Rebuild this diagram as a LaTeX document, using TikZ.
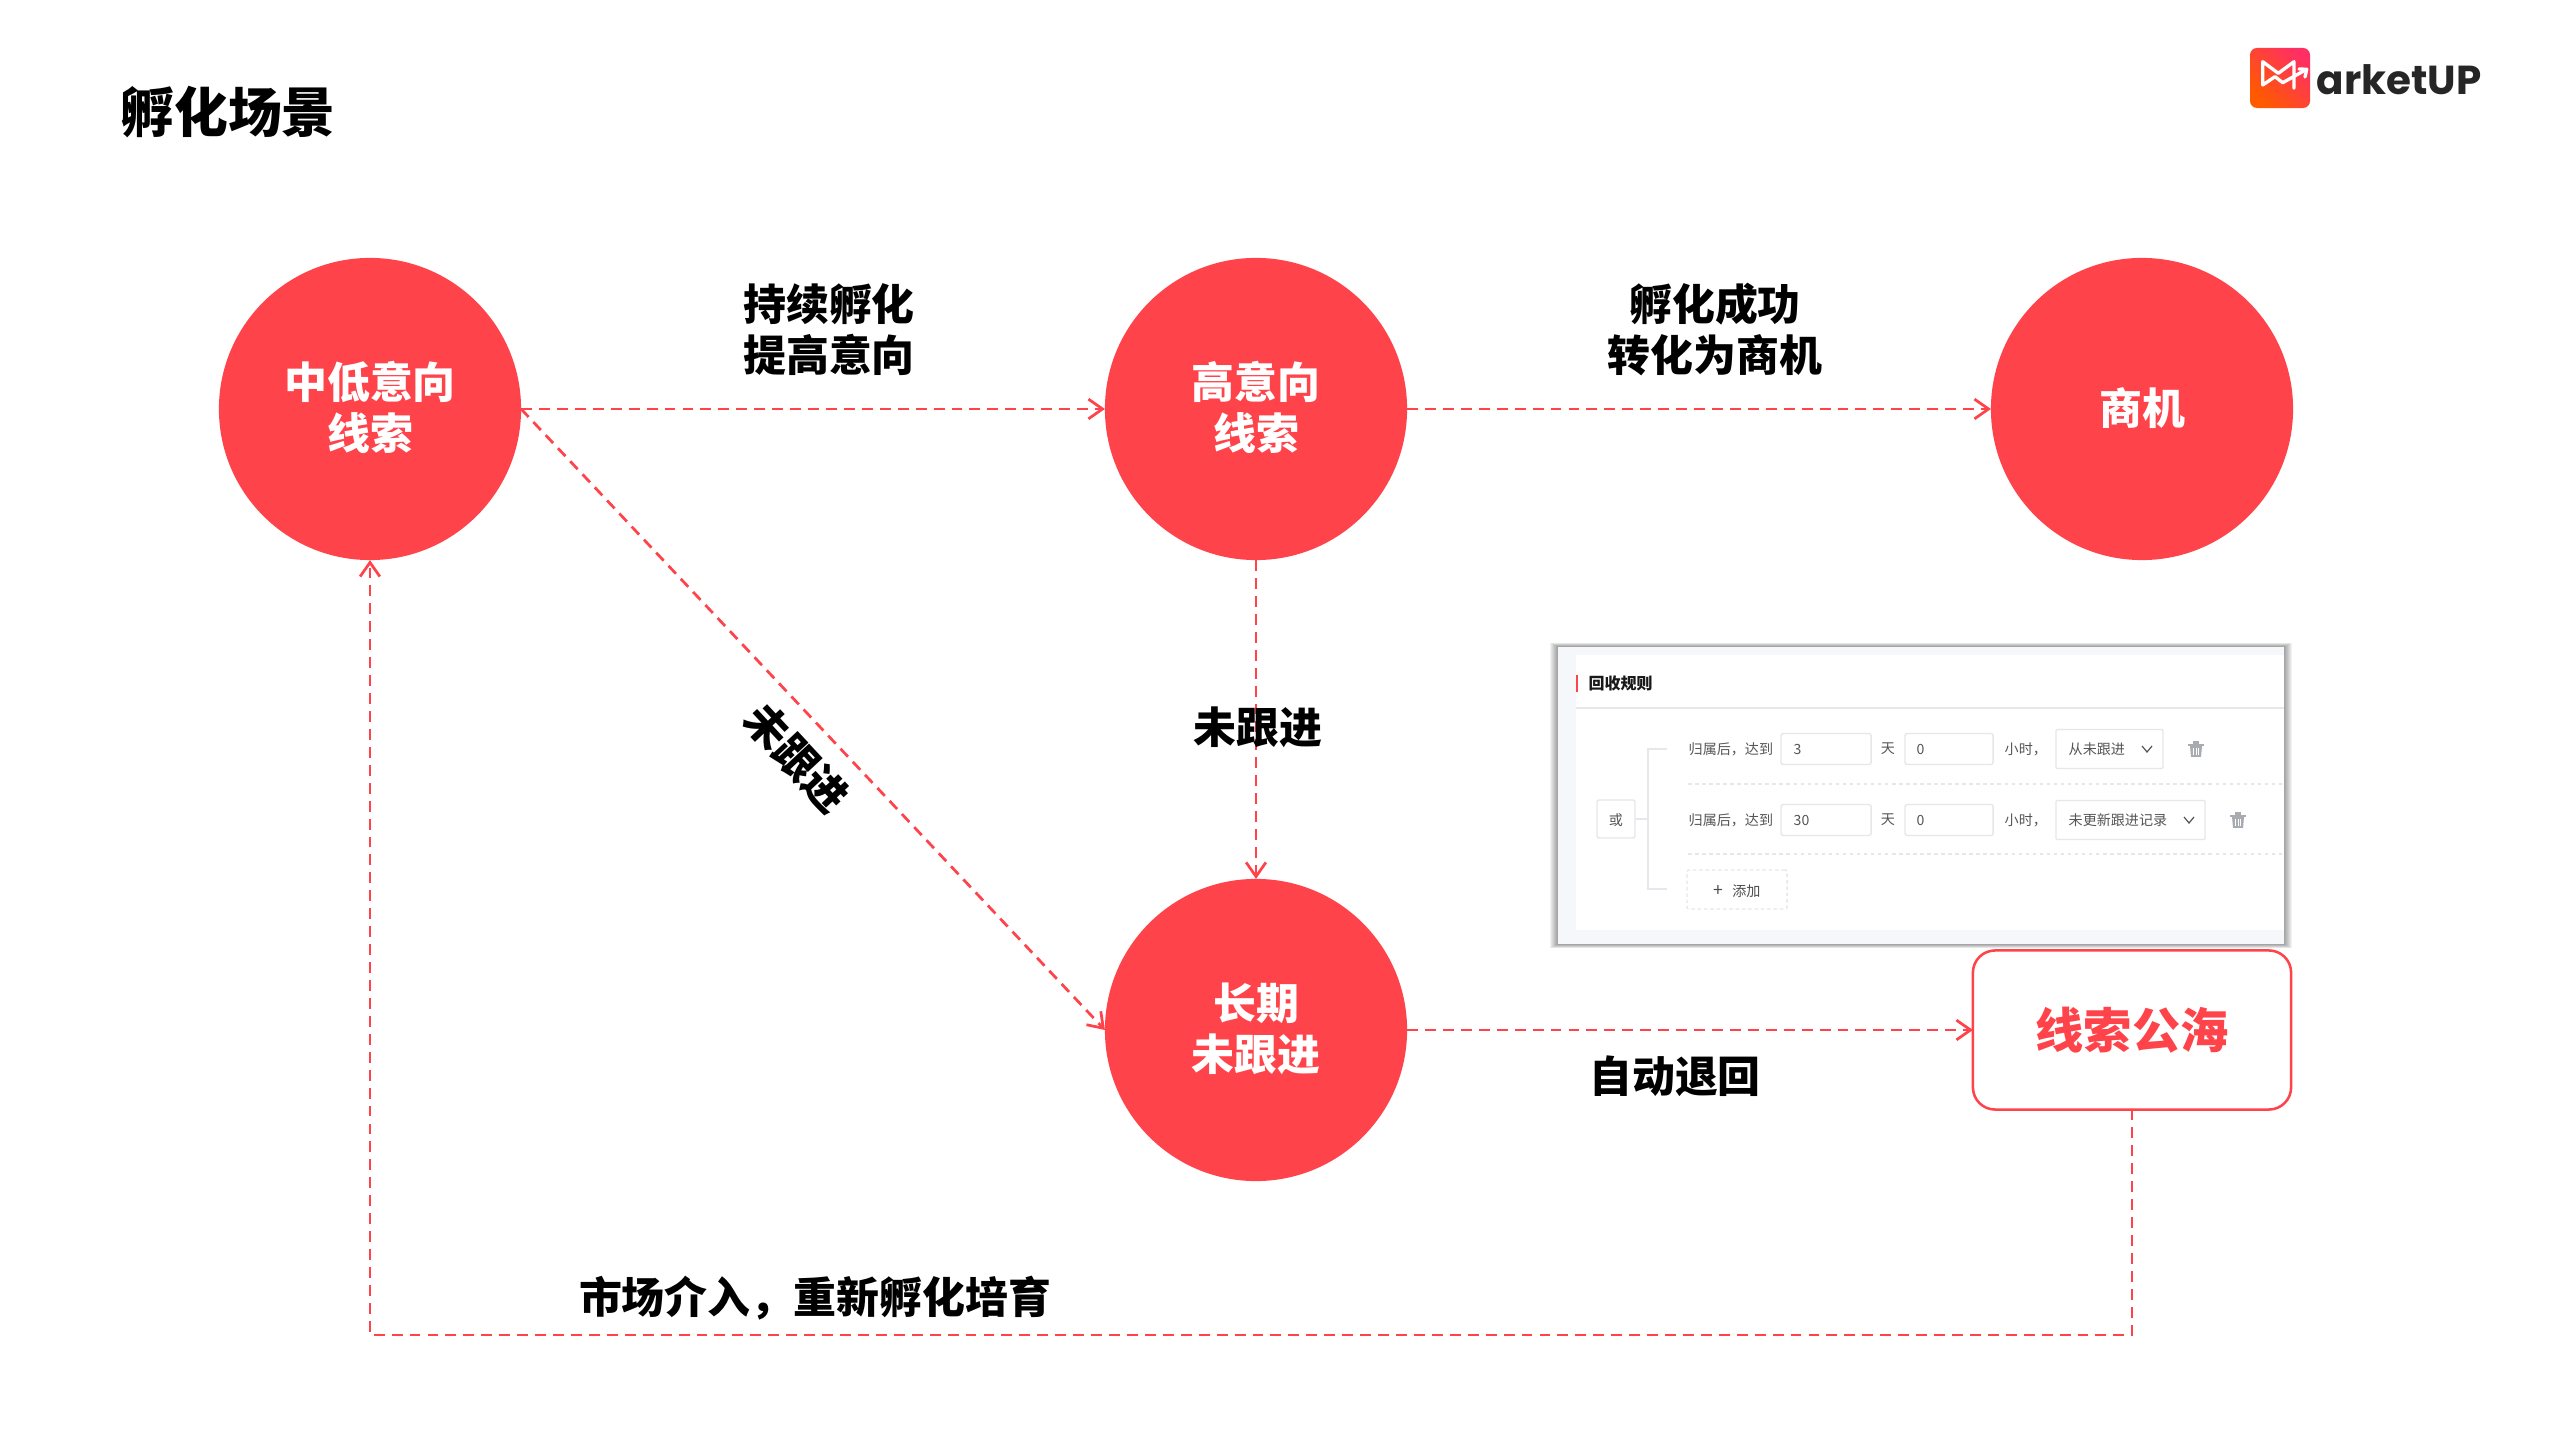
\documentclass[tikz,border=0pt]{standalone}
\usepackage{fontspec}
\setmainfont{Noto Sans CJK SC}
\newfontfamily\heavycjk{Noto Sans CJK SC Black}
\newfontfamily\logofont{Poppins}[BoldFont=* Bold]
\usetikzlibrary{arrows.meta}
\definecolor{clue}{HTML}{FF434A}
\definecolor{uiline}{HTML}{E6E7EA}
\definecolor{uitext}{HTML}{555555}
\definecolor{uibg}{HTML}{F5F7FA}
\definecolor{trashgray}{HTML}{A8ABB0}
\definecolor{logoA}{HTML}{FF2F63}
\definecolor{logoB}{HTML}{FF5A00}
\tikzset{
    trashcan/.pic = {
        \fill[trashgray] (-8,-5) rectangle (8,-3.4);
        \fill[trashgray] (-3,-8) rectangle (3,-5);
        \fill[trashgray] (-6,-3) -- (6,-3) -- (5,8) -- (-5,8) -- cycle;
        \foreach \k in {-2.5, 0, 2.5}
            \draw[white,line width=.25pt] (\k,-1) -- (\k,6);
    },
    chevron/.pic = {
        \draw[uitext,line width=.35pt] (-5,-3) -- (0,3) -- (5,-3);
    }
}
\begin{document}
\begin{tikzpicture}[x=.01cm,y=-.01cm,
    state/.style = {circle,fill=clue,text=white,minimum size=3.02cm,inner sep=0pt,outer sep=0pt,text depth=1.8pt,font=\fontsize{12.2pt}{14.5pt}\selectfont\bfseries,align=center},
    flow/.style = {draw=clue,line width=.78pt,dash pattern=on 3.1pt off 2pt,-{Straight Barb[length=4pt,width=5.6pt,line width=.78pt]}},
    tag/.style = {font=\fontsize{12.2pt}{14.5pt}\heavycjk,align=center,inner sep=0pt},
    uilabel/.style = {font=\fontsize{4pt}{5pt}\selectfont,text=uitext,inner sep=0pt},
    uibox/.style = {draw=uiline,line width=.4pt,fill=white,rounded corners=.6pt,inner sep=0pt,outer sep=0pt},
    uirule/.style = {draw=uiline,line width=.35pt}]
\path[use as bounding box,fill=white] (0,0) rectangle (2560,1440);

\node[anchor=center,inner sep=0pt,font=\fontsize{15.3pt}{18pt}\heavycjk] (title) at (228,112) {孵化场景};

% logo
\node[minimum size=.6cm,inner sep=0pt,rounded corners=2pt,shading=axis,left color=logoA,right color=logoB,shading angle=-45] (logobox) at (2280,78) {};
\draw[white,line width=.95pt,line cap=round,line join=round] (2294,88.3) -- (2294,61.7) -- (2278.3,73.3) -- (2262.7,61.7) -- (2262.7,85) -- (2275,76.7) -- (2282.7,82.7) -- (2306.7,69.3);
\draw[white,line width=.95pt,line cap=round,line join=round] (2299,69) -- (2306.7,69.3) -- (2305,77);
\node[anchor=base west,inner sep=0pt,text=black!85,font=\fontsize{11.5pt}{14pt}\logofont\bfseries] (logotext) at (2316,95) {arketUP};

\node[state] (lowclue) at (370,409) {中低意向\\线索};
\node[state] (highclue) at (1256,409) {高意向\\线索};
\node[state] (deal) at (2142,409) {商机};
\node[state] (idle) at (1256,1030) {长期\\未跟进};
\node[draw=clue,line width=.72pt,rounded corners=6.3pt,minimum width=3.18cm,minimum height=1.59cm,inner sep=0pt,outer sep=0pt,text=clue,font=\fontsize{13.7pt}{16pt}\heavycjk] (pool) at (2132,1030) {线索公海};

\coordinate (poolturn) at (2132,1335);
\coordinate (lowturn) at (370,1335);
\draw[flow] (lowclue.east) -- (highclue.west);
\draw[flow] (highclue.east) -- (deal.west);
\draw[flow] (lowclue.east) -- (idle.west);
\draw[flow] (highclue.south) -- (idle.north);
\draw[flow] (idle.east) -- (pool.west);
\draw[flow] (pool.south) -- (poolturn) -- (lowturn) -- (lowclue.south);

\node[tag] (grow) at (829,330) {持续孵化\\提高意向};
\node[tag] (success) at (1715,330) {孵化成功\\转化为商机};
\node[tag] (nofollowA) at (1258,727) {未跟进};
\node[tag,rotate=-47] (nofollowB) at (797,758) {未跟进};
\node[tag] (autoback) at (1675,1076) {自动退回};
\node[tag] (market) at (815,1298) {市场介入，重新孵化培育};

% rule panel
\foreach \s in {1,...,8}
    \fill[black,opacity=.05] (1558-\s,647-.5*\s) rectangle (2284+\s,944+.5*\s);
\fill[uibg] (1558,647) rectangle (2284,944);
\fill[white] (1576,655) rectangle (2284,930);
\fill[clue] (1576,675) rectangle (1578,692);
\node[uilabel,anchor=west,text=black!90,font=\fontsize{4.55pt}{6pt}\selectfont\bfseries] (ruletitle) at (1588,683.5) {回收规则};
\draw[uirule] (1576,708) -- (2284,708);
\draw[uirule,dashed,dash pattern=on 1pt off 1pt] (1688,784) -- (2284,784);
\draw[uirule,dashed,dash pattern=on 1pt off 1pt] (1688,854) -- (2284,854);

\node[uibox,minimum size=.38cm] (orbox) at (1616,819) {};
\node[uilabel] (ortext) at (1616,820) {或};
\coordinate (branchA) at (1648,749);
\coordinate (branchB) at (1648,819);
\coordinate (branchC) at (1648,889);
\coordinate (endA) at (1667,749);
\coordinate (endC) at (1667,889);
\draw[uirule] (endA) -- (branchA) -- (branchC) -- (endC);
\draw[uirule] (orbox) -- (branchB);

\foreach \y/\d/\sel/\w in {749/3/从未跟进/107, 820/30/未更新跟进记录/149} {
    \node[uilabel,anchor=west] (after\y) at (1688,\y) {归属后，达到};
    \node[uibox,minimum width=.9cm,minimum height=.31cm] (days\y) at (1826,\y) {};
    \node[uilabel,anchor=west] (dayval\y) at (1793,\y) {\d};
    \node[uilabel] (dayunit\y) at (1888,\y) {天};
    \node[uibox,minimum width=.88cm,minimum height=.31cm] (hours\y) at (1949,\y) {};
    \node[uilabel,anchor=west] (hourval\y) at (1916,\y) {0};
    \node[uilabel,anchor=west] (hourunit\y) at (2004,\y) {小时，};
    \node[uibox,anchor=west,minimum width=\w*.01cm,minimum height=.39cm,rounded corners=.3pt] (sel\y) at (2056,\y) {};
    \node[uilabel,anchor=west] (seltext\y) at (2068,\y) {\sel};
    \pic (arrow\y) at (2056+\w-16,\y) {chevron};
    \pic (trash\y) at (2056+\w+33,\y) {trashcan};
}
\node[uibox,dashed,dash pattern=on 1pt off .8pt,minimum width=1cm,minimum height=.39cm] (addbox) at (1737,889.5) {};
\node[uilabel,text=black!70] (addtext) at (1737,891) {{\fontsize{5pt}{5pt}\selectfont +}\hspace{2.6pt}添加};
\end{tikzpicture}
\end{document}
